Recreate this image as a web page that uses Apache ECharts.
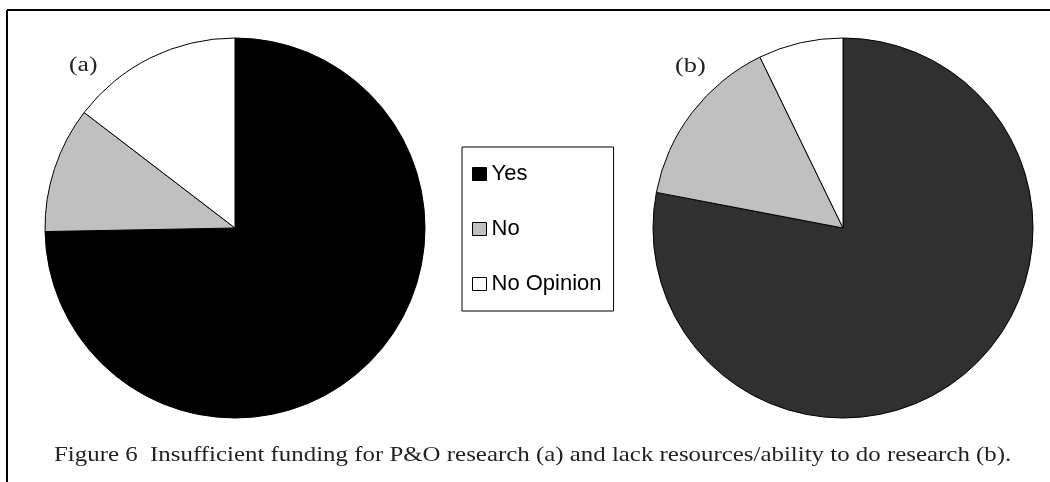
<!DOCTYPE html>
<html>
<head>
<meta charset="utf-8">
<script src="https://cdn.jsdelivr.net/npm/echarts@6/dist/echarts.min.js"></script>
<style>
html,body{margin:0;padding:0;background:#fff;}
#chart{width:1050px;height:482px;}
</style>
</head>
<body>
<div id="chart"></div>
<script>
const categories = ['Yes', 'No', 'No Opinion'];
const valuesA = [74.7, 10.7, 14.6];
const valuesB = [78.0, 14.8, 7.2];
const colorsA = ['#000000', '#c0c0c0', '#ffffff'];
const colorsB = ['#303030', '#c0c0c0', '#ffffff'];
const panelLabels = ['(a)', '(b)'];
const caption = 'Figure 6  Insufficient funding for P&O research (a) and lack resources/ability to do research (b).';

function makeData(vals, cols) {
  return categories.map((c, i) => ({ name: c, value: vals[i], itemStyle: { color: cols[i] } }));
}

const chart = echarts.init(document.getElementById('chart'), null, { renderer: 'canvas' });
const pieCommon = {
  type: 'pie',
  radius: 190,
  startAngle: 90,
  clockwise: true,
  label: { show: false },
  labelLine: { show: false },
  silent: true,
  animation: false,
  itemStyle: { borderColor: '#000', borderWidth: 1 }
};
chart.setOption({
  animation: false,
  backgroundColor: '#fff',
  legend: {
    orient: 'vertical',
    left: 462,
    top: 147,
    padding: [16, 12, 16, 10],
    itemGap: 33,
    itemWidth: 14,
    itemHeight: 13,
    icon: 'rect',
    borderColor: '#000',
    borderWidth: 1,
    data: categories,
    itemStyle: { borderColor: '#000', borderWidth: 1 },
    textStyle: { fontFamily: 'Liberation Sans', fontSize: 22, color: '#000', lineHeight: 20 },
    selectedMode: false
  },
  series: [
    Object.assign({}, pieCommon, { name: 'a', center: [235, 228], data: makeData(valuesA, colorsA) }),
    Object.assign({}, pieCommon, { name: 'b', center: [843, 228], data: makeData(valuesB, colorsB) })
  ],
  graphic: [
    { type: 'line', shape: { x1: 7, y1: 10, x2: 1050, y2: 10 }, style: { stroke: '#000', lineWidth: 2 } },
    { type: 'line', shape: { x1: 7, y1: 10, x2: 7, y2: 482 }, style: { stroke: '#000', lineWidth: 2 } },
    { type: 'text', x: 69, y: 56, scaleX: 1.28, style: { x: 0, y: 0, text: panelLabels[0], font: '20px "Liberation Serif"', fill: '#222', verticalAlign: 'top' } },
    { type: 'text', x: 675, y: 57, scaleX: 1.32, style: { x: 0, y: 0, text: panelLabels[1], font: '20px "Liberation Serif"', fill: '#222', verticalAlign: 'top' } },
    { type: 'text', x: 54, y: 445, scaleX: 1.185, style: { x: 0, y: 0, text: caption, font: '21px "Liberation Serif"', fill: '#222', verticalAlign: 'top' } }
  ]
});
</script>
</body>
</html>
